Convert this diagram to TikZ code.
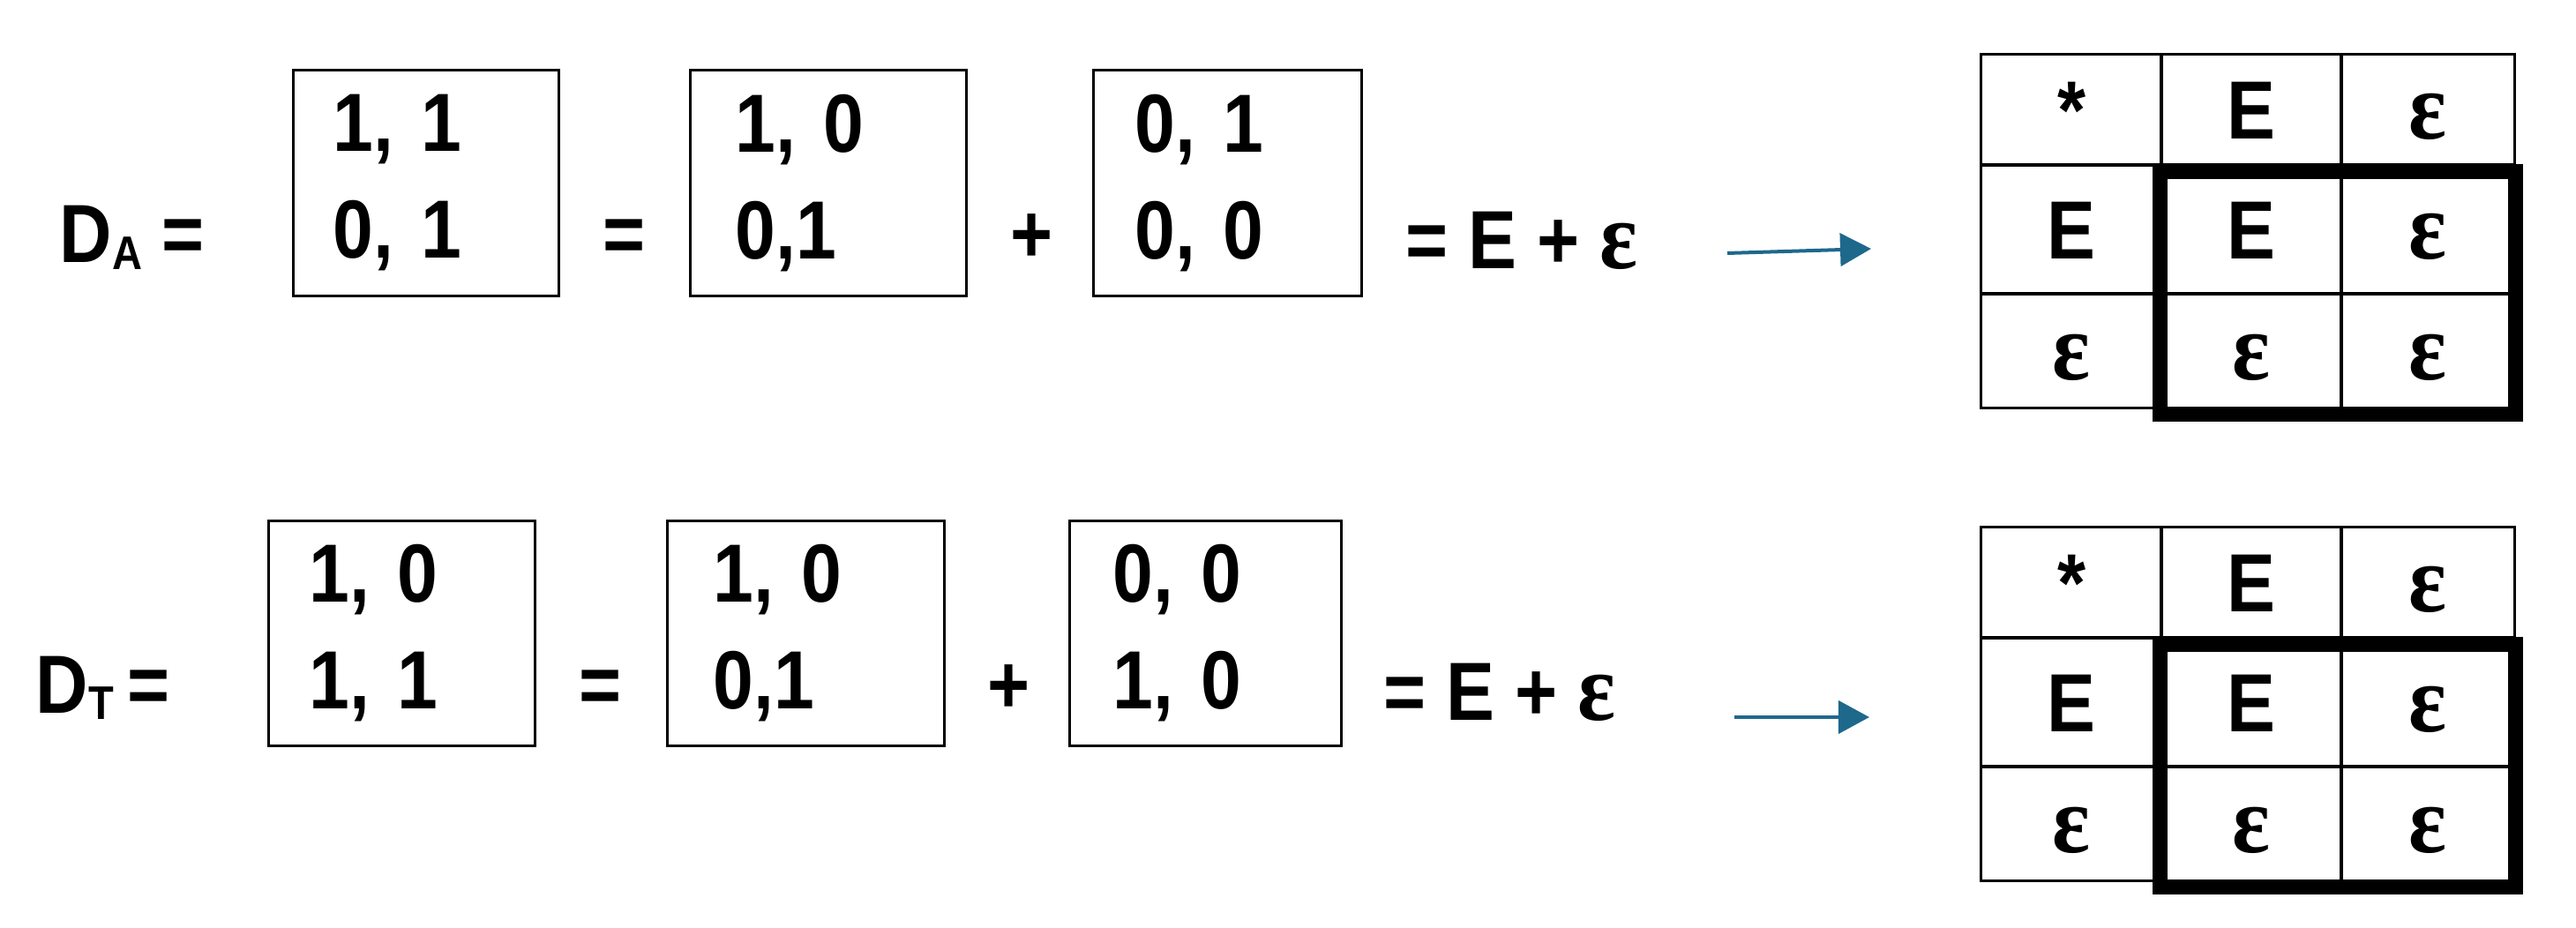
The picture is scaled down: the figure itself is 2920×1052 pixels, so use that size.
\documentclass[tikz,border=0pt]{standalone}
\usepackage{fontspec}
\setmainfont{Liberation Sans}[FakeStretch=0.88]
\newfontfamily\epsfont{Liberation Serif}[FakeStretch=0.92]
\newcommand\eps{{\epsfont\bfseries\fontsize{31pt}{31pt}\selectfont ε}}
\newcommand\lowsub[1]{\raisebox{-0.07cm}{\fontsize{15.2pt}{15pt}\selectfont #1}}
\usepackage{tikz}
\usetikzlibrary{
  arrows.meta
}
\definecolor{arrowblue}{RGB}{30,104,140}

\begin{document}
\begin{tikzpicture}[x=0.01cm, y=-0.01cm]
      \tikzstyle{txt}=[font=\bfseries\fontsize{26.6pt}{34.4pt}\selectfont, inner sep=0pt]
      \tikzstyle{pair box}=[txt, draw, line width=0.03cm, align=left, text width=2.1cm, inner xsep=0.45cm, minimum height=2.55cm]
      \tikzstyle{tcell}=[txt, draw, line width=0.03cm, text height=19pt, text depth=0pt]
      \tikzstyle{frame}=[line width=0.17cm]
      \tikzstyle{flow}=[draw=arrowblue, line width=0.04cm, -{Triangle[length=0.35cm, width=0.37cm]}]

      \useasboundingbox (0,0) rectangle (2920,1052);

      % D_A
      \node [txt, anchor=base west] (DA) at (67,298) {D\lowsub{A} =};
      \node [pair box, minimum width=3.00cm] (A1) at (483,207.5) {1, 1\\0, 1};
      \node [txt, anchor=base] (Aeq) at (708,298) {=};
      \node [pair box, minimum width=3.12cm] (A2) at (939,207.5) {1, 0\\0,1};
      \node [txt, anchor=base] (Aplus) at (1170,298) {+};
      \node [pair box, minimum width=3.03cm] (A3) at (1391.5,207.5) {0, 1\\0, 0};
      \node [txt, anchor=base west] (AE) at (1593,305) {= E + \eps};
      \coordinate (Afrom) at (1958,287);
      \coordinate (Ato) at (2121,282);
      \draw [flow] (Afrom) -- (Ato);

      % D_T
      \node [txt, anchor=base west] (DT) at (40,808) {D\lowsub{T}\,=};
      \node [pair box, minimum width=3.01cm] (T1) at (455.5,718) {1, 0\\1, 1};
      \node [txt, anchor=base] (Teq) at (681,808) {=};
      \node [pair box, minimum width=3.13cm] (T2) at (913.5,718) {1, 0\\0,1};
      \node [txt, anchor=base] (Tplus) at (1143.5,808) {+};
      \node [pair box, minimum width=3.07cm] (T3) at (1366.5,718) {0, 0\\1, 0};
      \node [txt, anchor=base west] (TE) at (1568,817) {= E + \eps};
      \coordinate (Tfrom) at (1966,813);
      \coordinate (Tto) at (2119,813);
      \draw [flow] (Tfrom) -- (Tto);

      % product tables
      \foreach \t/\dy in {A/0, T/536} {
        \foreach \r/\c/\lab in {1/1/{*}, 1/2/E, 1/3/\eps, 2/1/E, 2/2/E, 2/3/\eps, 3/1/\eps, 3/2/\eps, 3/3/\eps} {
          \pgfmathsetmacro\cx{{2348,2552,2752}[\c-1]}
          \pgfmathsetmacro\cw{{2.04,2.04,1.96}[\c-1]}
          \pgfmathsetmacro\ry{{124.5,260,397.5}[\r-1]+\dy}
          \pgfmathsetmacro\rh{{1.25,1.46,1.29}[\r-1]}
          \node [tcell, minimum width=\cw cm, minimum height=\rh cm] (K\t-\r-\c) at (\cx,\ry) {\lab};
        }
        \draw [frame] ([shift={(0,9)}]K\t-2-2.north west) rectangle ([shift={(0,6)}]K\t-3-3.south east);
      }

    \end{tikzpicture}
\end{document}
